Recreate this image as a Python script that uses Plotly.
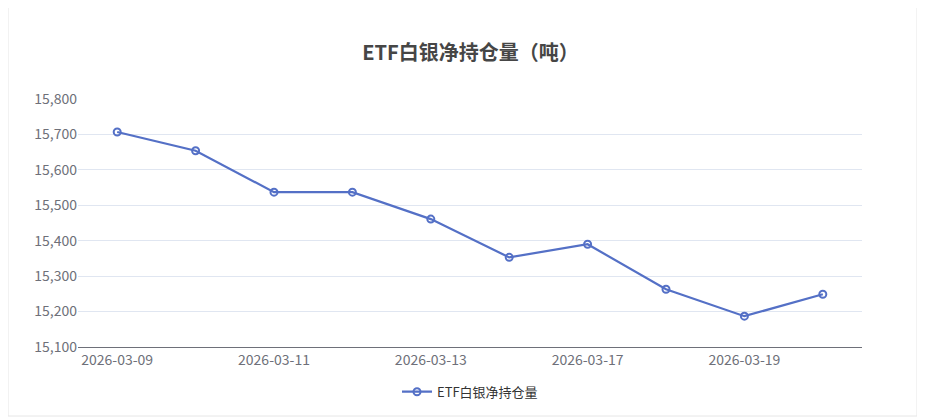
import plotly.graph_objects as go

dates = ["2026-03-09","2026-03-10","2026-03-11","2026-03-12","2026-03-13",
         "2026-03-16","2026-03-17","2026-03-18","2026-03-19","2026-03-20"]
values = [15707, 15654, 15537, 15537, 15461, 15353, 15390, 15263, 15187, 15249]
tick_labels = dates[::2]
series_name = "ETF白银净持仓量"

W, H = 925, 417
OFF = 8  # page body offset
L, R, T, B = 78 - OFF, 63 + OFF, 99 - OFF, 70 + OFF
pw, ph = W - L - R, H - T - B

fig = go.Figure(go.Scatter(
    x=dates, y=values, mode="lines+markers", name=series_name,
    line=dict(color="#5470c6", width=2.2),
    marker=dict(symbol="circle-open", size=7, color="#5470c6", line=dict(width=2)),
))
fig.update_layout(
    width=W, height=H, margin=dict(l=L, r=R, t=T, b=B),
    paper_bgcolor="white", plot_bgcolor="white",
    font=dict(family="Noto Sans CJK SC, Noto Sans, sans-serif", color="#6e7079", size=14),
    title=dict(text="<b>ETF白银净持仓量（吨）</b>", x=0.5, xanchor="center",
               y=1 - (53 - OFF) / H, yanchor="middle",
               font=dict(size=20, color="#464646")),
    showlegend=True,
    legend=dict(orientation="h", x=0.5, xanchor="center", y=-0.12, yanchor="top",
                font=dict(size=13, color="#333")),
    xaxis=dict(type="category", tickmode="array", tickvals=tick_labels, ticktext=tick_labels,
               showgrid=False, showline=True, linecolor="#6e7079", ticks="", range=[-0.5, 9.5],
               tickfont=dict(size=14)),
    yaxis=dict(range=[15100, 15800], dtick=100, tickformat=",", gridcolor="#e0e6f1",
               zeroline=False, showline=False, ticks="", tickfont=dict(size=14)),
    shapes=[dict(type="rect", xref="paper", yref="paper",
                 x0=(8 - OFF - L) / pw, x1=(917 - OFF - L) / pw,
                 y0=(H - B - (416 - OFF)) / ph, y1=(H - B - (6 - OFF)) / ph,
                 line=dict(color="#e6e6e6", width=1), layer="below")],
)
fig.write_html("out.html")
